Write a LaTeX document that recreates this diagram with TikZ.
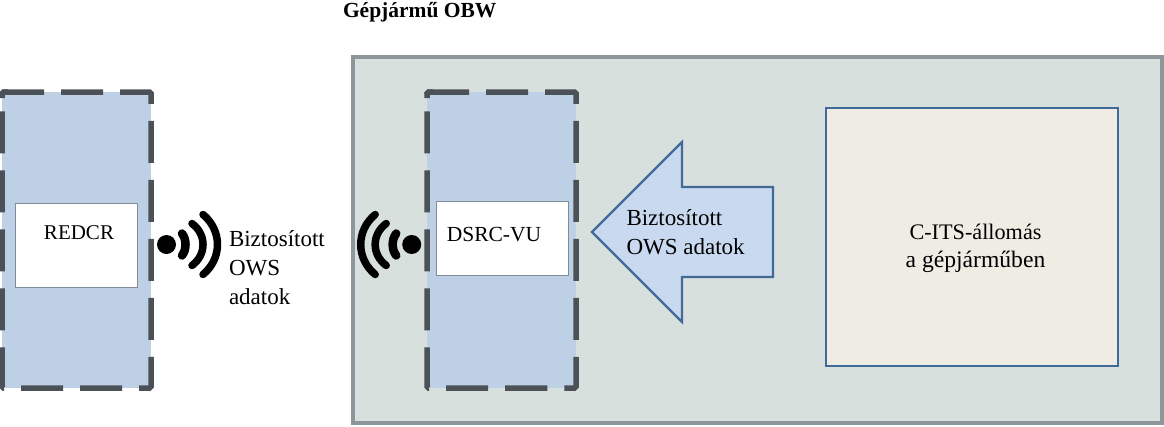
\documentclass[tikz,border=0pt]{standalone}
\usepackage{fontspec}
\setmainfont{Liberation Serif}
\definecolor{panelfill}{HTML}{D7E0DD}
\definecolor{paneledge}{HTML}{8D969A}
\definecolor{unitfill}{HTML}{BDD0E6}
\definecolor{dashcol}{HTML}{4B5157}
\definecolor{stationfill}{HTML}{EFECE4}
\definecolor{blueedge}{HTML}{416A99}
\definecolor{arrowfill}{HTML}{C9DAF0}
\definecolor{whiteedge}{HTML}{7F8C99}
\tikzset{
  x=1pt,y=-1pt,
  box/.style={rectangle,inner sep=0pt,outer sep=0pt,anchor=north west},
  panel/.style={box,draw=paneledge,fill=panelfill,line width=3.5pt},
  unit/.style={box,fill=unitfill},
  unitdash/.style={draw=dashcol,line width=5.5pt,rounded corners=1.5pt,dash pattern=on 42pt off 17pt},
  unitcorner/.style={draw=dashcol,line width=5.5pt,rounded corners=1.5pt,solid},
  inner box/.style={box,draw=whiteedge,fill=white,line width=1pt},
  station/.style={box,draw=blueedge,fill=stationfill,line width=2pt},
  flow/.style={draw=blueedge,fill=arrowfill,line width=2.2pt,line join=miter},
  label/.style={inner sep=0pt,outer sep=0pt,text=black,font=\fontsize{23}{28}\selectfont},
  caps/.style={label,font=\fontsize{21.5}{26}\selectfont},
  signal/.style={line width=7.5pt,black,line cap=round},
}
% radio symbol: a dot with three curved waves opening towards +x
\newcommand{\radiowaves}{%
  \fill[black] (0,0) circle (9.5pt);
  \draw[signal,line width=8.5pt] (15.5,-11) .. controls (20.2,-5) and (20.2,5) .. (15.5,11);
  \draw[signal] (25.5,-21) .. controls (40.2,-10) and (40.2,10) .. (25.5,21);
  \draw[signal] (36.5,-30) .. controls (55.8,-14) and (55.8,14) .. (36.5,30);
}
% dashed outline of a unit box, with a closed first corner
\newcommand{\unitoutline}[1]{%
  \draw[unitdash] (#1.north west) -- (#1.north east) -- (#1.south east) -- (#1.south west) -- (#1.north west);
  \draw[unitcorner] ([yshift=-6pt]#1.north west) -- (#1.north west) -- ([xshift=6pt]#1.north west);
}
\begin{document}
\begin{tikzpicture}
\useasboundingbox (0,0) rectangle (1164,426);
% vehicle enclosure
\node[panel,minimum width=809pt,minimum height=366pt] (obw) at (353,57) {};
\node[caps,font=\fontsize{21.5}{26}\selectfont\bfseries,anchor=base west] (obwtitle) at (343,17) {Gépjármű OBW};
% roadside unit
\node[unit,minimum width=149pt,minimum height=296pt] (redcr) at (2,92) {};
\unitoutline{redcr}
\node[inner box,minimum width=122pt,minimum height=84pt] (redcrin) at (15,203) {};
\node[caps,font=\fontsize{21}{26}\selectfont,anchor=base] (redcrtxt) at (79,239) {REDCR};
% on-board short-range unit
\node[unit,minimum width=149pt,minimum height=296pt] (dsrc) at (427,92) {};
\unitoutline{dsrc}
\node[inner box,minimum width=132pt,minimum height=74pt] (dsrcin) at (436,201) {};
\node[caps,anchor=base] (dsrctxt) at (494,241.5) {DSRC-VU};
% C-ITS station
\node[station,minimum width=292pt,minimum height=258pt] (cits) at (826,108) {};
\node[caps,font=\fontsize{22.2}{26}\selectfont,anchor=base] (cits1) at (975.5,239) {C-ITS-állomás};
\node[label,font=\fontsize{23.6}{28}\selectfont,anchor=base] (cits2) at (975.5,267.5) {a gépjárműben};
% data flow arrow
\draw[flow] (592,232) -- (682,142) -- (682,187) -- (773,187) -- (773,277) -- (682,277) -- (682,322) -- cycle;
\node[label,anchor=base west] (flow1) at (626.5,225) {Biztosított};
\node[label,anchor=base west] (flow2) at (626.5,254) {OWS adatok};
% radio signal marks
\begin{scope}[shift={(166.5,244.5)}]
  \radiowaves
\end{scope}
\begin{scope}[shift={(411.7,244.5)},xscale=-1]
  \radiowaves
\end{scope}
\node[label,anchor=base west] (sig1) at (229,246) {Biztosított};
\node[label,anchor=base west] (sig2) at (229,275.5) {OWS};
\node[label,anchor=base west] (sig3) at (229,304) {adatok};
\end{tikzpicture}
\end{document}
